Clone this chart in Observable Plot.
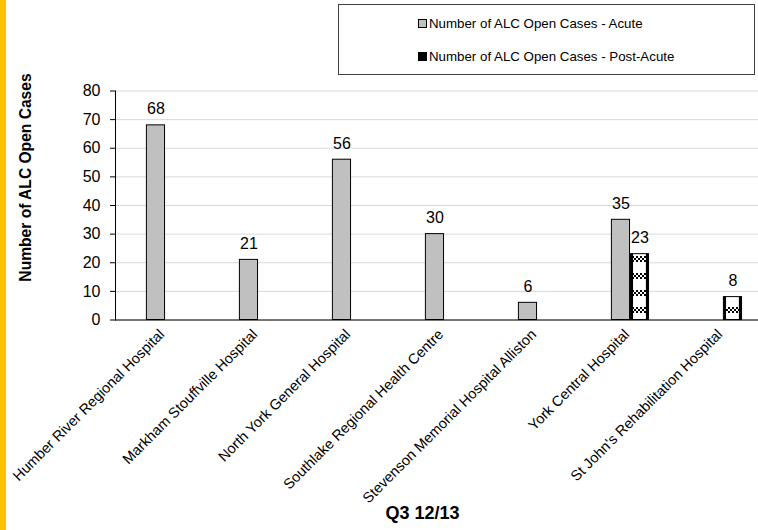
<!DOCTYPE html>
<html>
<head>
<meta charset="utf-8">
<script src="https://cdn.jsdelivr.net/npm/d3@7"></script>
<script src="https://cdn.jsdelivr.net/npm/@observablehq/plot@0.6"></script>
<style>
  html, body { margin: 0; padding: 0; background: #fff; overflow: hidden; }
  #wrap { position: relative; width: 758px; height: 530px; font-family: "Liberation Sans", Arial, sans-serif; color: #000; }
  #gold { position: absolute; left: 0; top: 0; width: 6px; height: 530px; background: #FFC000; }
  #legend { position: absolute; left: 338px; top: 4px; width: 417px; height: 71px; border: 1px solid #404040; box-sizing: border-box; background: #fff; }
  .item { position: absolute; left: 79px; font-size: 13.3px; line-height: 16px; white-space: nowrap; }
  .sw { display: inline-block; width: 7px; height: 7px; border: 1px solid #000; margin-right: 2px; vertical-align: 0px; }
  #chart svg { display: block; }
</style>
</head>
<body>
<div id="wrap">
  <div id="chart"></div>
  <div id="gold"></div>
  <div id="legend"></div>
</div>
<script>
const hospitals = [
  "Humber River Regional Hospital",
  "Markham Stouffville Hospital",
  "North York General Hospital",
  "Southlake Regional Health Centre",
  "Stevenson Memorial Hospital Alliston",
  "York Central Hospital",
  "St John's Rehabilitation Hospital"
];
const acute = [68, 21, 56, 30, 6, 35, null];
const postAcute = [null, null, null, null, null, 23, 8];
const seriesNames = ["Number of ALC Open Cases - Acute", "Number of ALC Open Cases - Post-Acute"];
const yTicks = [0, 10, 20, 30, 40, 50, 60, 70, 80];
const yTitle = "Number of ALC Open Cases";
const xTitle = "Q3 12/13";

const acuteData = hospitals.map((h, i) => ({hospital: h, value: acute[i]})).filter(d => d.value != null);
const postData = hospitals.map((h, i) => ({hospital: h, value: postAcute[i]})).filter(d => d.value != null);

const bandW = (772 - 115) / hospitals.length;
const barW = 19;
const strip = 3.5;
const acuteL = 28.4, postL = 47.4;

const chart = Plot.plot({
  width: 758,
  height: 530,
  marginTop: 90.5,
  marginBottom: 210.5,
  marginLeft: 115,
  marginRight: 0,
  style: {fontFamily: "Liberation Sans, Arial, sans-serif", color: "#000", background: "transparent"},
  x: {type: "band", domain: hospitals, range: [115, 772], padding: 0},
  y: {domain: [0, 80]},
  marks: [
    Plot.gridY(yTicks, {stroke: "#d9d9d9", strokeOpacity: 1}),
    Plot.rectY(acuteData, {x: "hospital", y: "value", fill: "#c0c0c0", stroke: "#000", strokeWidth: 1,
      insetLeft: acuteL, insetRight: bandW - acuteL - barW}),
    // post-acute: checker fill, black side strips, outline
    Plot.rectY(postData, {x: "hospital", y: "value", fill: "url(#checker)",
      insetLeft: postL, insetRight: bandW - postL - barW}),
    Plot.rectY(postData, {x: "hospital", y: "value", fill: "#000",
      insetLeft: postL, insetRight: bandW - postL - strip}),
    Plot.rectY(postData, {x: "hospital", y: "value", fill: "#000",
      insetLeft: postL + barW - strip, insetRight: bandW - postL - barW}),
    Plot.rectY(postData, {x: "hospital", y: "value", fill: "none", stroke: "#000", strokeWidth: 1,
      insetLeft: postL, insetRight: bandW - postL - barW}),
    Plot.text(acuteData, {x: "hospital", y: "value", text: d => String(d.value), dx: acuteL + barW / 2 - bandW / 2, dy: -16, lineAnchor: "middle", fontSize: 16, fill: "#000"}),
    Plot.text(postData, {x: "hospital", y: "value", text: d => String(d.value), dx: postL + barW / 2 - bandW / 2, dy: -16, lineAnchor: "middle", fontSize: 16, fill: "#000"}),
    Plot.frame({anchor: "left", stroke: "#000"}),
    Plot.ruleY([0], {stroke: "#000"}),
    Plot.axisY(yTicks, {tickSize: 5, tickPadding: 10, fontSize: 16, label: null, stroke: "#000"}),
    Plot.axisX({tickSize: 0, tickRotate: -45, tickPadding: 12, dx: -3, fontSize: 14.5, label: null}),
    Plot.text([yTitle], {frameAnchor: "left", textAnchor: "middle", rotate: -90, dx: -90, dy: -28, fontSize: 15.6, fontWeight: "bold", fill: "#000"}),
    Plot.text([xTitle], {frameAnchor: "bottom", dx: -14.5, dy: 198.5, fontSize: 18, fontWeight: "bold", fill: "#000"})
  ]
});

// checker pattern tile for post-acute bars
const svg = d3.select(chart);
const defs = svg.insert("defs", ":first-child");
const pat = defs.append("pattern").attr("id", "checker").attr("patternUnits", "userSpaceOnUse")
  .attr("x", 0).attr("y", 307).attr("width", 4).attr("height", 17);
pat.append("rect").attr("width", 4).attr("height", 17).attr("fill", "#fff");
for (let r = 0; r < 3; r++) for (let c = 0; c < 2; c++) {
  if ((r + c) % 2 === 0) pat.append("rect").attr("x", 2 * c).attr("y", 2 * r).attr("width", 2).attr("height", 2).attr("fill", "#000");
}

document.getElementById("chart").appendChild(chart);

// legend
const legend = document.getElementById("legend");
const colors = ["#c0c0c0", "#000"];
seriesNames.forEach((name, i) => {
  const div = document.createElement("div");
  div.className = "item";
  div.style.top = (i === 0 ? 11 : 44) + "px";
  const sw = document.createElement("span");
  sw.className = "sw";
  sw.style.background = colors[i];
  div.appendChild(sw);
  div.appendChild(document.createTextNode(name));
  legend.appendChild(div);
});
</script>
</body>
</html>
